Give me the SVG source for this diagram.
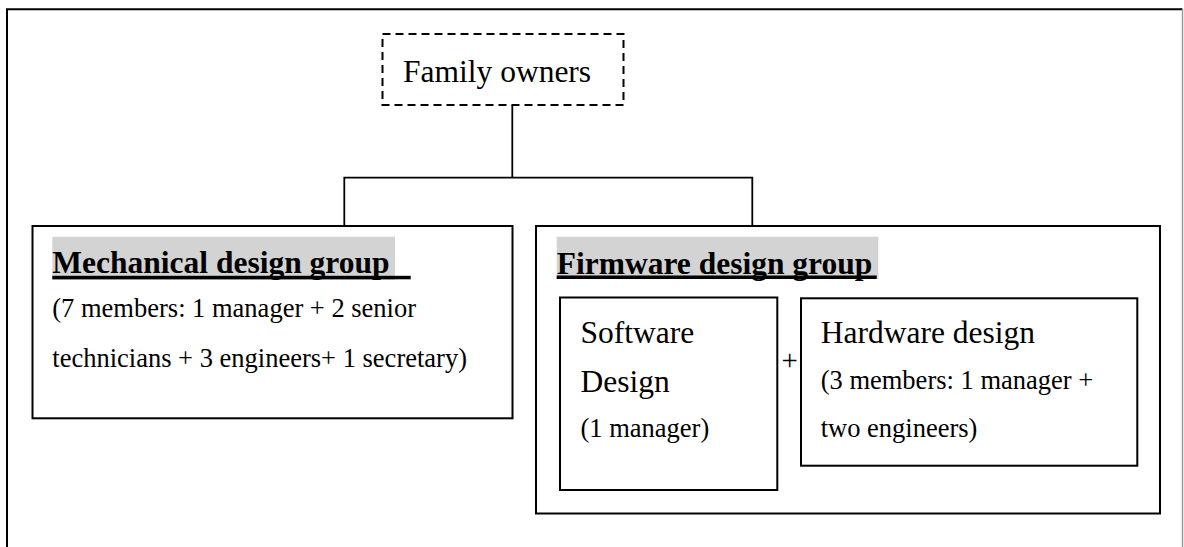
<svg xmlns="http://www.w3.org/2000/svg" width="1184" height="547" viewBox="0 0 1184 547">
  <style>
    .box { fill: #ffffff; stroke: #000000; stroke-width: 2; }
    .dashed { fill: #ffffff; stroke: #000000; stroke-width: 2; stroke-dasharray: 8 5; }
    .link { fill: none; stroke: #000000; stroke-width: 1.8; }
    .title { font-family: "Liberation Serif", "Times New Roman", serif; font-size: 31.5px; fill: #000000; }
    .head { font-family: "Liberation Serif", "Times New Roman", serif; font-size: 31.5px; font-weight: bold; fill: #000000; }
    .body { font-family: "Liberation Serif", "Times New Roman", serif; font-size: 26.5px; fill: #000000; }
    .shade { fill: #d3d3d3; }
    .rule { fill: #000000; }
  </style>
  <rect x="0" y="0" width="1184" height="547" fill="#ffffff"/>

  <!-- page frame -->
  <g id="frame">
    <line x1="7" y1="9.3" x2="7" y2="547" stroke="#000000" stroke-width="2"/>
    <line x1="6" y1="9.3" x2="1182.5" y2="9.3" stroke="#000000" stroke-width="2"/>
    <line x1="1182.5" y1="9.3" x2="1182.5" y2="547" stroke="#9a9a9a" stroke-width="1.5"/>
  </g>

  <!-- org chart lines -->
  <g id="connectors">
    <line class="link" x1="512.3" y1="105" x2="512.3" y2="177.7"/>
    <polyline class="link" points="344.3,225.7 344.3,177.7 752.3,177.7 752.3,225.7"/>
  </g>

  <g id="family-owners">
    <rect class="dashed" x="382.5" y="34" width="241" height="71"/>
    <text class="title" x="403" y="81.7">Family owners</text>
  </g>

  <g id="mechanical-design-group">
    <rect class="box" x="32.5" y="226" width="480" height="192.3"/>
    <rect class="shade" x="52.3" y="236.7" width="342.7" height="43.3"/>
    <text class="head" x="52.3" y="273.3">Mechanical design group</text>
    <rect class="rule" x="52.3" y="275.8" width="358.4" height="3.5"/>
    <text class="body" x="52.3" y="316.7">(7 members: 1 manager + 2 senior</text>
    <text class="body" x="52.3" y="366.7">technicians + 3 engineers+ 1 secretary)</text>
  </g>

  <g id="firmware-design-group">
    <rect class="box" x="536" y="226" width="624" height="287.5"/>
    <rect class="shade" x="556.7" y="236.7" width="321.6" height="42.3"/>
    <text class="head" x="556.7" y="274">Firmware design group</text>
    <rect class="rule" x="556.7" y="275.5" width="320" height="3.5"/>
  </g>

  <g id="software-design">
    <rect class="box" x="560" y="297.5" width="217.3" height="192.5"/>
    <text class="title" x="580.5" y="343.3">Software</text>
    <text class="title" x="580.5" y="391.7">Design</text>
    <text class="body" x="580.5" y="436.7">(1 manager)</text>
  </g>

  <text class="body" x="781.5" y="369.5" style="font-size:29px">+</text>

  <g id="hardware-design">
    <rect class="box" x="801" y="298.3" width="336.3" height="167.4"/>
    <text class="title" x="820.7" y="343.3">Hardware design</text>
    <text class="body" x="820.7" y="389.3">(3 members: 1 manager +</text>
    <text class="body" x="820.7" y="436.7">two engineers)</text>
  </g>
</svg>
